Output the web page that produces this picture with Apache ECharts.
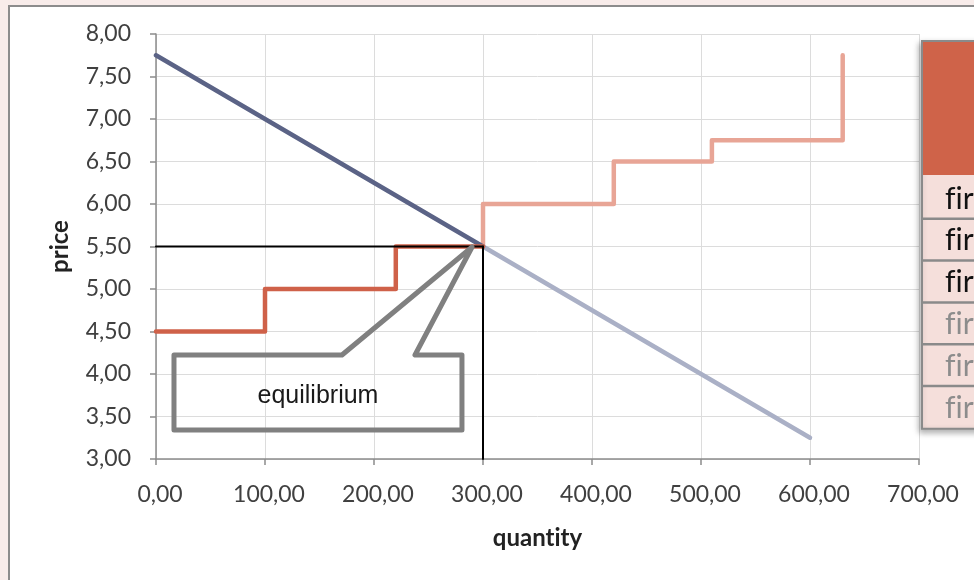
<!DOCTYPE html>
<html>
<head>
<meta charset="utf-8">
<script src="https://cdn.jsdelivr.net/npm/echarts@6/dist/echarts.min.js"></script>
<style>
  html, body { margin: 0; padding: 0; background: #f8ecea; overflow: hidden; }
  #frame {
    position: absolute; left: 8px; top: 5px; width: 1000px; height: 600px;
    background: #fff; border: 2px solid #8c8c8c;
  }
  #main { position: absolute; left: 0; top: 0; width: 974px; height: 580px; }
</style>
</head>
<body>
<div id="frame"></div>
<div id="main"></div>
<script>
// demand curve (quantity, price)
const demandLeft = [[0, 7.75], [300, 5.5]];
const demandRight = [[300, 5.5], [600, 3.25]];
// supply steps
const supplyLeft = [[0, 4.5], [100, 4.5], [100, 5], [220, 5], [220, 5.5], [300, 5.5]];
const supplyRight = [[300, 5.5], [300, 6], [420, 6], [420, 6.5], [510, 6.5], [510, 6.75], [630, 6.75], [630, 7.75]];
// equilibrium point
const eqQ = 300;
const eqP = 5.5;
// table rows
const firms = ["firm 1", "firm 2", "firm 3", "firm 4", "firm 5", "firm 6"];
const firmActive = [true, true, true, false, false, false];

// zero-width non-joiner stops Lato from joining "fi" / "ti"
const noLig = s => s.replace(/([ft])i/g, "$1\u200Ci");
const fmt = v => v.toFixed(2).replace(".", ",");
const tickFont = { fontFamily: "Lato", fontSize: 23, color: "#404040" };
const titleFont = { fontFamily: "Lato", fontSize: 24, fontWeight: "bold", color: "#222" };

const chart = echarts.init(document.getElementById("main"));

function line(data, color, width) {
  return {
    type: "line",
    data: data,
    symbol: "none",
    silent: true,
    lineStyle: { color: color, width: width, cap: "round", join: "round" },
  };
}

chart.setOption({
  animation: false,
  grid: { left: 156, right: 55, top: 34, bottom: 121 },
  xAxis: {
    type: "value",
    min: 0,
    max: 700,
    interval: 100,
    name: noLig("quantity"),
    nameLocation: "middle",
    nameGap: 67,
    nameTextStyle: titleFont,
    axisLine: { show: true, lineStyle: { color: "#8c8c8c", width: 1.5 } },
    axisTick: { show: true, length: 6, lineStyle: { color: "#8c8c8c", width: 1.5 } },
    axisLabel: Object.assign({ formatter: fmt, margin: 24, padding: [0, 0, 0, 8] }, tickFont),
    splitLine: { show: true, lineStyle: { color: "#dcdcdc", width: 1 } },
  },
  yAxis: {
    type: "value",
    min: 3,
    max: 8,
    interval: 0.5,
    name: "price",
    nameLocation: "middle",
    nameRotate: 90,
    nameGap: 84,
    nameTextStyle: titleFont,
    axisLine: { show: true, lineStyle: { color: "#8c8c8c", width: 1.5 } },
    axisTick: { show: true, length: 6, lineStyle: { color: "#8c8c8c", width: 1.5 } },
    axisLabel: Object.assign({ formatter: fmt, margin: 25 }, tickFont),
    splitLine: { show: true, lineStyle: { color: "#dcdcdc", width: 1 } },
  },
  series: [
    line(demandRight, "#aab0c6", 4.5),
    line(supplyRight, "#e8a596", 4.5),
    line(demandLeft, "#5b6386", 4.5),
    line(supplyLeft, "#cf6149", 4.5),
    line([[0, eqP], [eqQ, eqP]], "#000", 2),
    line([[eqQ, eqP], [eqQ, 3]], "#000", 2),
  ],
});

// callout box (in data units) pointing at the equilibrium
const callout = [[16.5, 4.224], [170.6, 4.224], [290, 5.494], [237.6, 4.224], [280.7, 4.224], [280.7, 3.341], [16.5, 3.341]];
const calloutPx = callout.map(p => chart.convertToPixel({ gridIndex: 0 }, p));
const cx = (calloutPx[0][0] + calloutPx[4][0]) / 2;
const cy = (calloutPx[0][1] + calloutPx[5][1]) / 2 + 4;

// side table
const tableX = 922, headTop = 41, headBottom = 175, rowTop = 177, rowH = 41.8;
const tableEls = [
  {
    type: "rect",
    shape: { x: tableX, y: headTop, width: 80, height: rowTop - headTop + rowH * firms.length + 1 },
    style: { fill: "#f5dfdb", stroke: "#8a8a8a", lineWidth: 2, shadowBlur: 6, shadowOffsetX: -2, shadowOffsetY: 3, shadowColor: "rgba(0,0,0,0.3)" },
  },
  {
    type: "rect",
    shape: { x: tableX + 1, y: headTop + 1, width: 80, height: headBottom - headTop - 1 },
    style: { fill: "#cf6349" },
  },
];
firms.forEach((f, i) => {
  const y0 = rowTop + rowH * i;
  if (i > 0) {
    tableEls.push({
      type: "line",
      shape: { x1: tableX, y1: y0, x2: 980, y2: y0 },
      style: { stroke: "#8a8a8a", lineWidth: 2.5 },
    });
  }
  tableEls.push({
    type: "text",
    x: 945,
    y: y0 + rowH / 2 + 1,
    style: {
      text: noLig(f),
      fontFamily: "Lato",
      fontSize: 30,
      fill: firmActive[i] ? "#111" : "#8c8c8c",
      verticalAlign: "middle",
    },
  });
});

chart.setOption({
  graphic: [
    {
      type: "polygon",
      shape: { points: calloutPx },
      style: { fill: "none", stroke: "#808080", lineWidth: 5, lineJoin: "round" },
      z: 10,
    },
    {
      type: "text",
      x: cx,
      y: cy,
      style: {
        text: "equilibrium",
        fontFamily: "Liberation Sans",
        fontSize: 25,
        fill: "#1a1a1a",
        align: "center",
        verticalAlign: "middle",
      },
      z: 10,
    },
    { type: "group", z: 20, children: tableEls },
  ],
});
</script>
</body>
</html>
